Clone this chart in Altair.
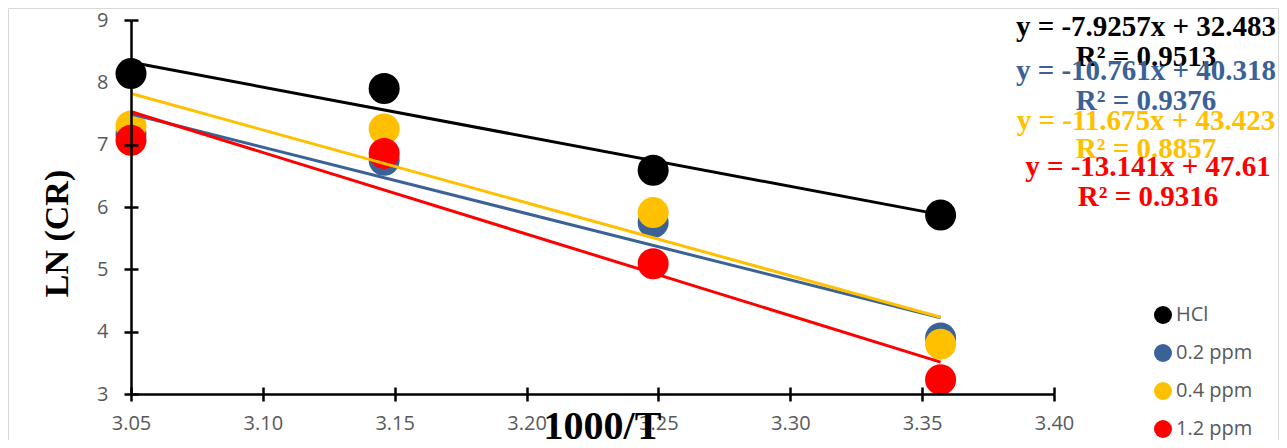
import altair as alt
import pandas as pd

# ---- data ----
series = ["HCl", "0.2 ppm", "0.4 ppm", "1.2 ppm"]
colors = ["#000000", "#3B6296", "#FFC000", "#FF0000"]
inv_t = [3.050, 3.146, 3.248, 3.357]
ln_hcl = [8.14, 7.90, 6.59, 5.87]
ln_02 = [7.17, 6.75, 5.75, 3.90]
ln_04 = [7.30, 7.25, 5.91, 3.80]
ln_12 = [7.07, 6.86, 5.09, 3.23]
equations = ["y = -7.9257x + 32.483", "y = -10.761x + 40.318",
             "y = -11.675x + 43.423", "y = -13.141x + 47.61"]
r_squared = ["R² = 0.9513", "R² = 0.9376", "R² = 0.8857", "R² = 0.9316"]
x_ticks = [3.05, 3.10, 3.15, 3.20, 3.25, 3.30, 3.35, 3.40]
y_ticks = [3, 4, 5, 6, 7, 8, 9]

rows = []
for s_i, (name, vals) in enumerate(zip(series, [ln_hcl, ln_02, ln_04, ln_12])):
    for xv, yv in zip(inv_t, vals):
        rows.append({"series": name, "x": xv, "y": yv, "idx": s_i})
df = pd.DataFrame(rows)

W, H = 923, 374
color_scale = alt.Scale(domain=series, range=colors)
x_scale = alt.Scale(domain=[3.05, 3.40], nice=False, zero=False)
y_scale = alt.Scale(domain=[3, 9], nice=False, zero=False)

LABEL_FONT = "Open Sans"
LABEL_COLOR = "#595959"
AXW = 2.5

x_axis_main = alt.Axis(
    orient="bottom", values=x_ticks, format=".2f", title="1000/T",
    domain=True, ticks=True, zindex=1,
    domainColor="black", domainWidth=AXW, tickColor="black", tickWidth=AXW, tickSize=7,
    labelFont=LABEL_FONT, labelFontSize=20, labelColor=LABEL_COLOR, labelPadding=12,
    titleFont="Liberation Serif", titleFontSize=40, titleFontWeight="bold", titleColor="black",
    titleX=471, titleY=44, titleAlign="center", titleBaseline="alphabetic",
    grid=False, labelFlush=False)
y_axis_main = alt.Axis(
    orient="left", values=y_ticks, format="d", title="LN (CR)",
    domain=True, ticks=True, zindex=1,
    domainColor="black", domainWidth=AXW, tickColor="black", tickWidth=AXW, tickSize=7,
    labelFont=LABEL_FONT, labelFontSize=20, labelColor=LABEL_COLOR, labelPadding=16,
    titleFont="Liberation Serif", titleFontSize=34, titleFontWeight="bold", titleColor="black",
    titleAngle=270, titleX=-74, titleY=213, titleAlign="center", titleBaseline="middle",
    grid=False, labelFlush=False)
x_axis_inner = alt.Axis(orient="bottom", values=x_ticks, offset=-7, domain=False, labels=False,
                        ticks=True, zindex=1,
                        title=None, tickColor="black", tickWidth=AXW, tickSize=7, grid=False)
y_axis_inner = alt.Axis(orient="left", values=y_ticks, offset=-7, domain=False, labels=False,
                        ticks=True, zindex=1,
                        title=None, tickColor="black", tickWidth=AXW, tickSize=7, grid=False)

border = alt.Chart(pd.DataFrame({"b": [0]})).mark_rect(
    fill="white", fillOpacity=0, stroke="#D9D9D9", strokeWidth=1
).encode(x=alt.value(-122.5), x2=alt.value(1147.5), y=alt.value(-11.5), y2=alt.value(460))

points = alt.Chart(df).mark_circle(size=961, opacity=1).encode(
    x=alt.X("x:Q", scale=x_scale, axis=x_axis_main),
    y=alt.Y("y:Q", scale=y_scale, axis=y_axis_main),
    color=alt.Color("series:N", scale=color_scale, sort=series, legend=alt.Legend(
        orient="none", legendX=1022, legendY=285, title=None, symbolType="circle",
        symbolSize=324, symbolStrokeWidth=0, symbolOpacity=1, labelFont=LABEL_FONT,
        labelFontSize=20, labelColor=LABEL_COLOR, rowPadding=18, labelOffset=3, padding=0)),
    order=alt.Order("idx:Q"),
)

lines = alt.Chart(df).transform_regression(
    "x", "y", groupby=["series"]
).mark_line(strokeWidth=3).encode(
    x=alt.X("x:Q", scale=x_scale, axis=x_axis_inner),
    y=alt.Y("y:Q", scale=y_scale, axis=y_axis_inner),
    color=alt.Color("series:N", scale=color_scale, legend=None),
)

# equation annotations (positions relative to plot origin)
eq_x = [1015, 1015, 1015, 1017]
eq_y = [16, 60, 110, 156]
r2_y = [46, 90, 138, 186]
texts = []
for i in range(4):
    texts.append(alt.Chart(pd.DataFrame({"t": [equations[i]]})).mark_text(
        font="Liberation Serif", fontSize=29, fontWeight="bold", align="center",
        baseline="alphabetic", color=colors[i]
    ).encode(x=alt.value(eq_x[i]), y=alt.value(eq_y[i]), text="t:N"))
    texts.append(alt.Chart(pd.DataFrame({"t": [r_squared[i]]})).mark_text(
        font="Liberation Serif", fontSize=29, fontWeight="bold", align="center",
        baseline="alphabetic", color=colors[i]
    ).encode(x=alt.value(eq_x[i]), y=alt.value(r2_y[i]), text="t:N"))

chart = alt.layer(border, points, lines, *texts).resolve_axis(
    x="independent", y="independent"
).properties(
    width=W, height=H, background="white",
    autosize=alt.AutoSizeParams(type="none"),
    padding={"left": 123, "top": 12, "right": 225, "bottom": 46},
).configure_view(stroke=None)

chart.save("out.html", embed_options={"renderer": "svg", "actions": False})
